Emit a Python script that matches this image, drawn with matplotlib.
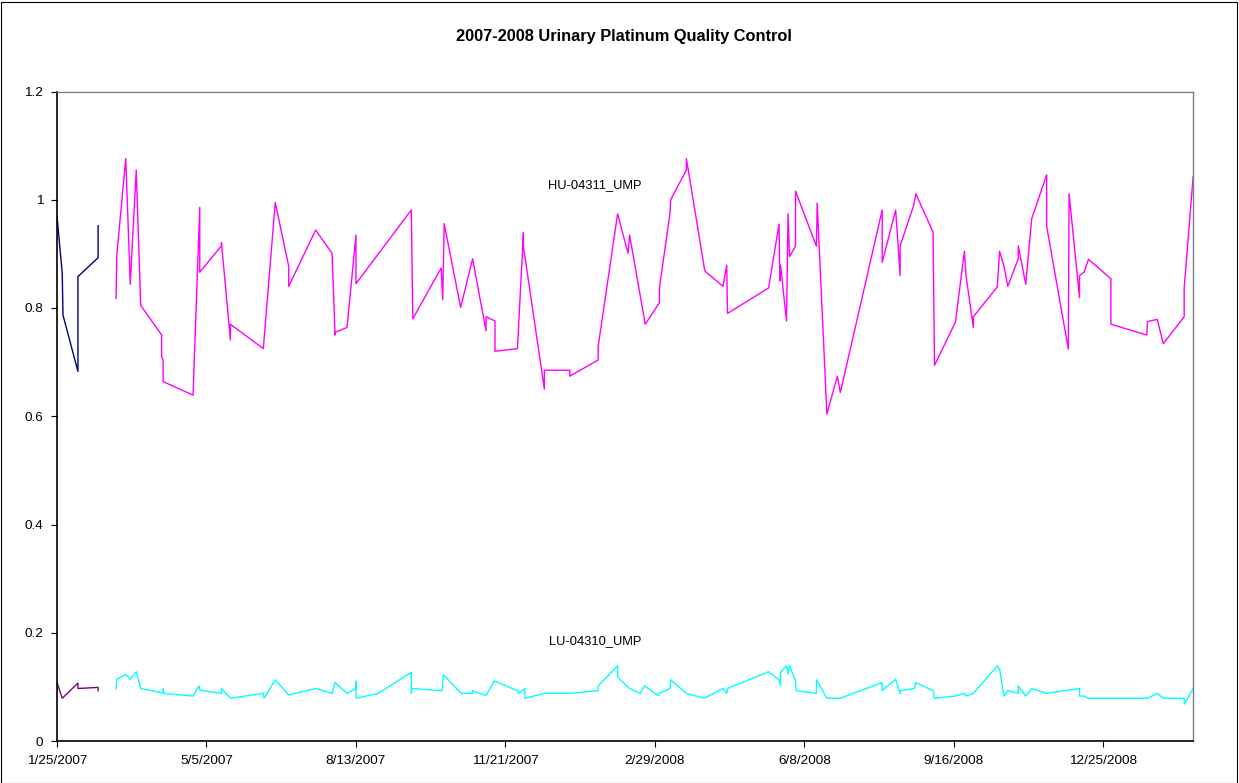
import matplotlib
matplotlib.use("Agg")
import matplotlib.pyplot as plt
from matplotlib.patches import Rectangle

plt.rcParams['font.family'] = ['Liberation Sans', 'DejaVu Sans']

# ---- data (x = days since 1/25/2007) ----
navy_days = [0, 3.5, 4, 14, 14, 27.5, 27.5]
navy_vals = [0.970, 0.864, 0.787, 0.683, 0.858, 0.893, 0.952]

purple_days = [0, 3.5, 14, 14, 27.5, 27.5]
purple_vals = [0.108, 0.079, 0.107, 0.097, 0.099, 0.093]

hu_days = [39.5, 40, 46, 49, 53, 56, 70, 70, 71, 71, 91, 95.5, 95.5, 110, 110, 116, 116,
           138, 146, 155, 155, 173, 184, 186, 186, 194, 200, 200, 237, 238, 257, 258, 259,
           270, 278, 287, 287, 293, 293, 308, 312, 312, 326, 326, 343, 343, 362, 362, 375,
           382, 383, 393.5, 403, 403, 410, 410.5, 421, 421, 433, 433.5, 445.5, 448, 448.5,
           476, 483, 483.5, 484, 488, 489, 490, 494, 494, 508, 508.5, 515, 522, 524, 552,
           552, 561, 564, 564, 573, 574.5, 586, 587, 601, 607, 608, 613, 613, 629, 630.5,
           633.5, 636, 643, 643, 648, 652, 662, 662, 676.5, 677, 684, 684, 687, 690, 705,
           705, 729, 729.5, 736, 740, 754, 754, 760]
hu_vals = [0.818, 0.898, 1.076, 0.844, 1.055, 0.805, 0.750, 0.710, 0.704, 0.664, 0.639,
           0.986, 0.866, 0.915, 0.921, 0.741, 0.770, 0.725, 0.995, 0.877, 0.840, 0.944,
           0.901, 0.750, 0.755, 0.764, 0.935, 0.845, 0.981, 0.780, 0.874, 0.815, 0.956,
           0.801, 0.891, 0.758, 0.784, 0.776, 0.720, 0.725, 0.939, 0.914, 0.650, 0.685,
           0.685, 0.674, 0.704, 0.729, 0.974, 0.901, 0.935, 0.770, 0.810, 0.838, 0.974,
           1.000, 1.055, 1.076, 0.874, 0.868, 0.840, 0.879, 0.790, 0.837, 0.955, 0.850,
           0.879, 0.776, 0.974, 0.895, 0.914, 1.016, 0.914, 0.994, 0.604, 0.674, 0.644,
           0.981, 0.884, 0.981, 0.860, 0.915, 0.989, 1.011, 0.940, 0.694, 0.774, 0.905,
           0.861, 0.764, 0.784, 0.839, 0.905, 0.877, 0.840, 0.891, 0.915, 0.844, 0.965,
           1.046, 0.951, 0.724, 1.011, 0.819, 0.860, 0.866, 0.890, 0.854, 0.770, 0.750,
           0.775, 0.779, 0.734, 0.784, 0.837, 1.043]

lu_days = [39.5, 40, 46, 49, 53, 56, 70.5, 71, 71.5, 91, 95, 95.5, 110, 110, 116, 138,
           138.5, 146, 155, 173, 184, 186, 194, 200, 200, 200, 215, 237, 237, 237.5, 257.5,
           258.5, 270.5, 278, 278, 287, 292.5, 308, 308.5, 313, 313, 326, 343, 362, 362,
           375, 375, 383, 390, 393, 402, 403, 410, 410.5, 421, 433, 445.5, 448, 448.5, 476,
           483, 484, 484, 488, 489, 490, 494, 494.5, 508, 508, 515, 524, 552, 552, 561, 564,
           564, 573.5, 574.5, 586, 587, 601, 607, 608, 613, 629, 630.5, 633.5, 636, 643,
           643, 648, 652, 662, 684, 684, 687, 690, 729.5, 736, 740, 754, 754, 760]
lu_vals = [0.097, 0.114, 0.123, 0.114, 0.128, 0.097, 0.089, 0.097, 0.088, 0.083, 0.102,
           0.094, 0.088, 0.097, 0.079, 0.088, 0.079, 0.113, 0.085, 0.097, 0.088, 0.108,
           0.088, 0.097, 0.110, 0.079, 0.088, 0.127, 0.088, 0.097, 0.093, 0.122, 0.088,
           0.088, 0.093, 0.084, 0.111, 0.093, 0.088, 0.097, 0.079, 0.088, 0.088, 0.093,
           0.102, 0.139, 0.118, 0.097, 0.088, 0.102, 0.084, 0.088, 0.097, 0.113, 0.088,
           0.079, 0.097, 0.088, 0.097, 0.128, 0.113, 0.102, 0.127, 0.139, 0.124, 0.139,
           0.111, 0.093, 0.088, 0.113, 0.079, 0.079, 0.108, 0.093, 0.114, 0.088, 0.093,
           0.097, 0.108, 0.093, 0.079, 0.083, 0.088, 0.083, 0.088, 0.139, 0.133, 0.083,
           0.093, 0.088, 0.102, 0.083, 0.097, 0.088, 0.097, 0.083, 0.083, 0.079, 0.079,
           0.088, 0.079, 0.079, 0.068, 0.097]

x_tick_days = [0, 100, 200, 300, 400, 500, 600, 700]
x_tick_labels = ["1/25/2007", "5/5/2007", "8/13/2007", "11/21/2007", "2/29/2008",
                 "6/8/2008", "9/16/2008", "12/25/2008"]
y_ticks = [0, 0.2, 0.4, 0.6, 0.8, 1.0, 1.2]
y_tick_labels = ["0", "0.2", "0.4", "0.6", "0.8", "1", "1.2"]

title = "2007-2008 Urinary Platinum Quality Control"
hu_label = "HU-04311_UMP"
lu_label = "LU-04310_UMP"

# ---- figure ----
W, H = 1239, 783
fig = plt.figure(figsize=(W / 100, H / 100), dpi=100)
fig.patch.set_facecolor('white')
fig.add_artist(Rectangle((0.5 / W, 0.5 / H), 1 - 2.5 / W, 1 - 2.5 / H, transform=fig.transFigure,
                         fill=False, edgecolor='black', linewidth=0.8))

left, right, top, bottom = 57, 1193.3, 91.5, 741
ax = fig.add_axes([left / W, (H - bottom) / H, (right - left) / W, (bottom - top) / H])

lw = 1.0
ax.plot(navy_days, navy_vals, color='#000080', lw=lw)
ax.plot(purple_days, purple_vals, color='#800080', lw=lw)
ax.plot(hu_days, hu_vals, color='#FF00FF', lw=lw)
ax.plot(lu_days, lu_vals, color='#00FFFF', lw=lw)

ax.set_xlim(0, 760.1)
ax.set_ylim(0, 1.2)
ax.set_xticks(x_tick_days)
ax.set_xticklabels(x_tick_labels)
ax.set_yticks(y_ticks)
ax.set_yticklabels(y_tick_labels)
ax.tick_params(axis='both', direction='out', length=4, width=0.8, labelsize=9.7,
               colors='black', pad=6)

for s in ['left', 'bottom']:
    ax.spines[s].set_color('black')
    ax.spines[s].set_linewidth(1.2)
for s in ['top', 'right']:
    ax.spines[s].set_color('#808080')
    ax.spines[s].set_linewidth(1.0)

ax.text(360, 1.027, hu_label, fontsize=9.3, ha='center', va='center')
ax.text(360, 0.184, lu_label, fontsize=9.3, ha='center', va='center')

fig.text(624 / W, 1 - 37 / H, title, fontsize=11.8, fontweight='bold', ha='center', va='center')

fig.savefig('out.png', dpi=100)
